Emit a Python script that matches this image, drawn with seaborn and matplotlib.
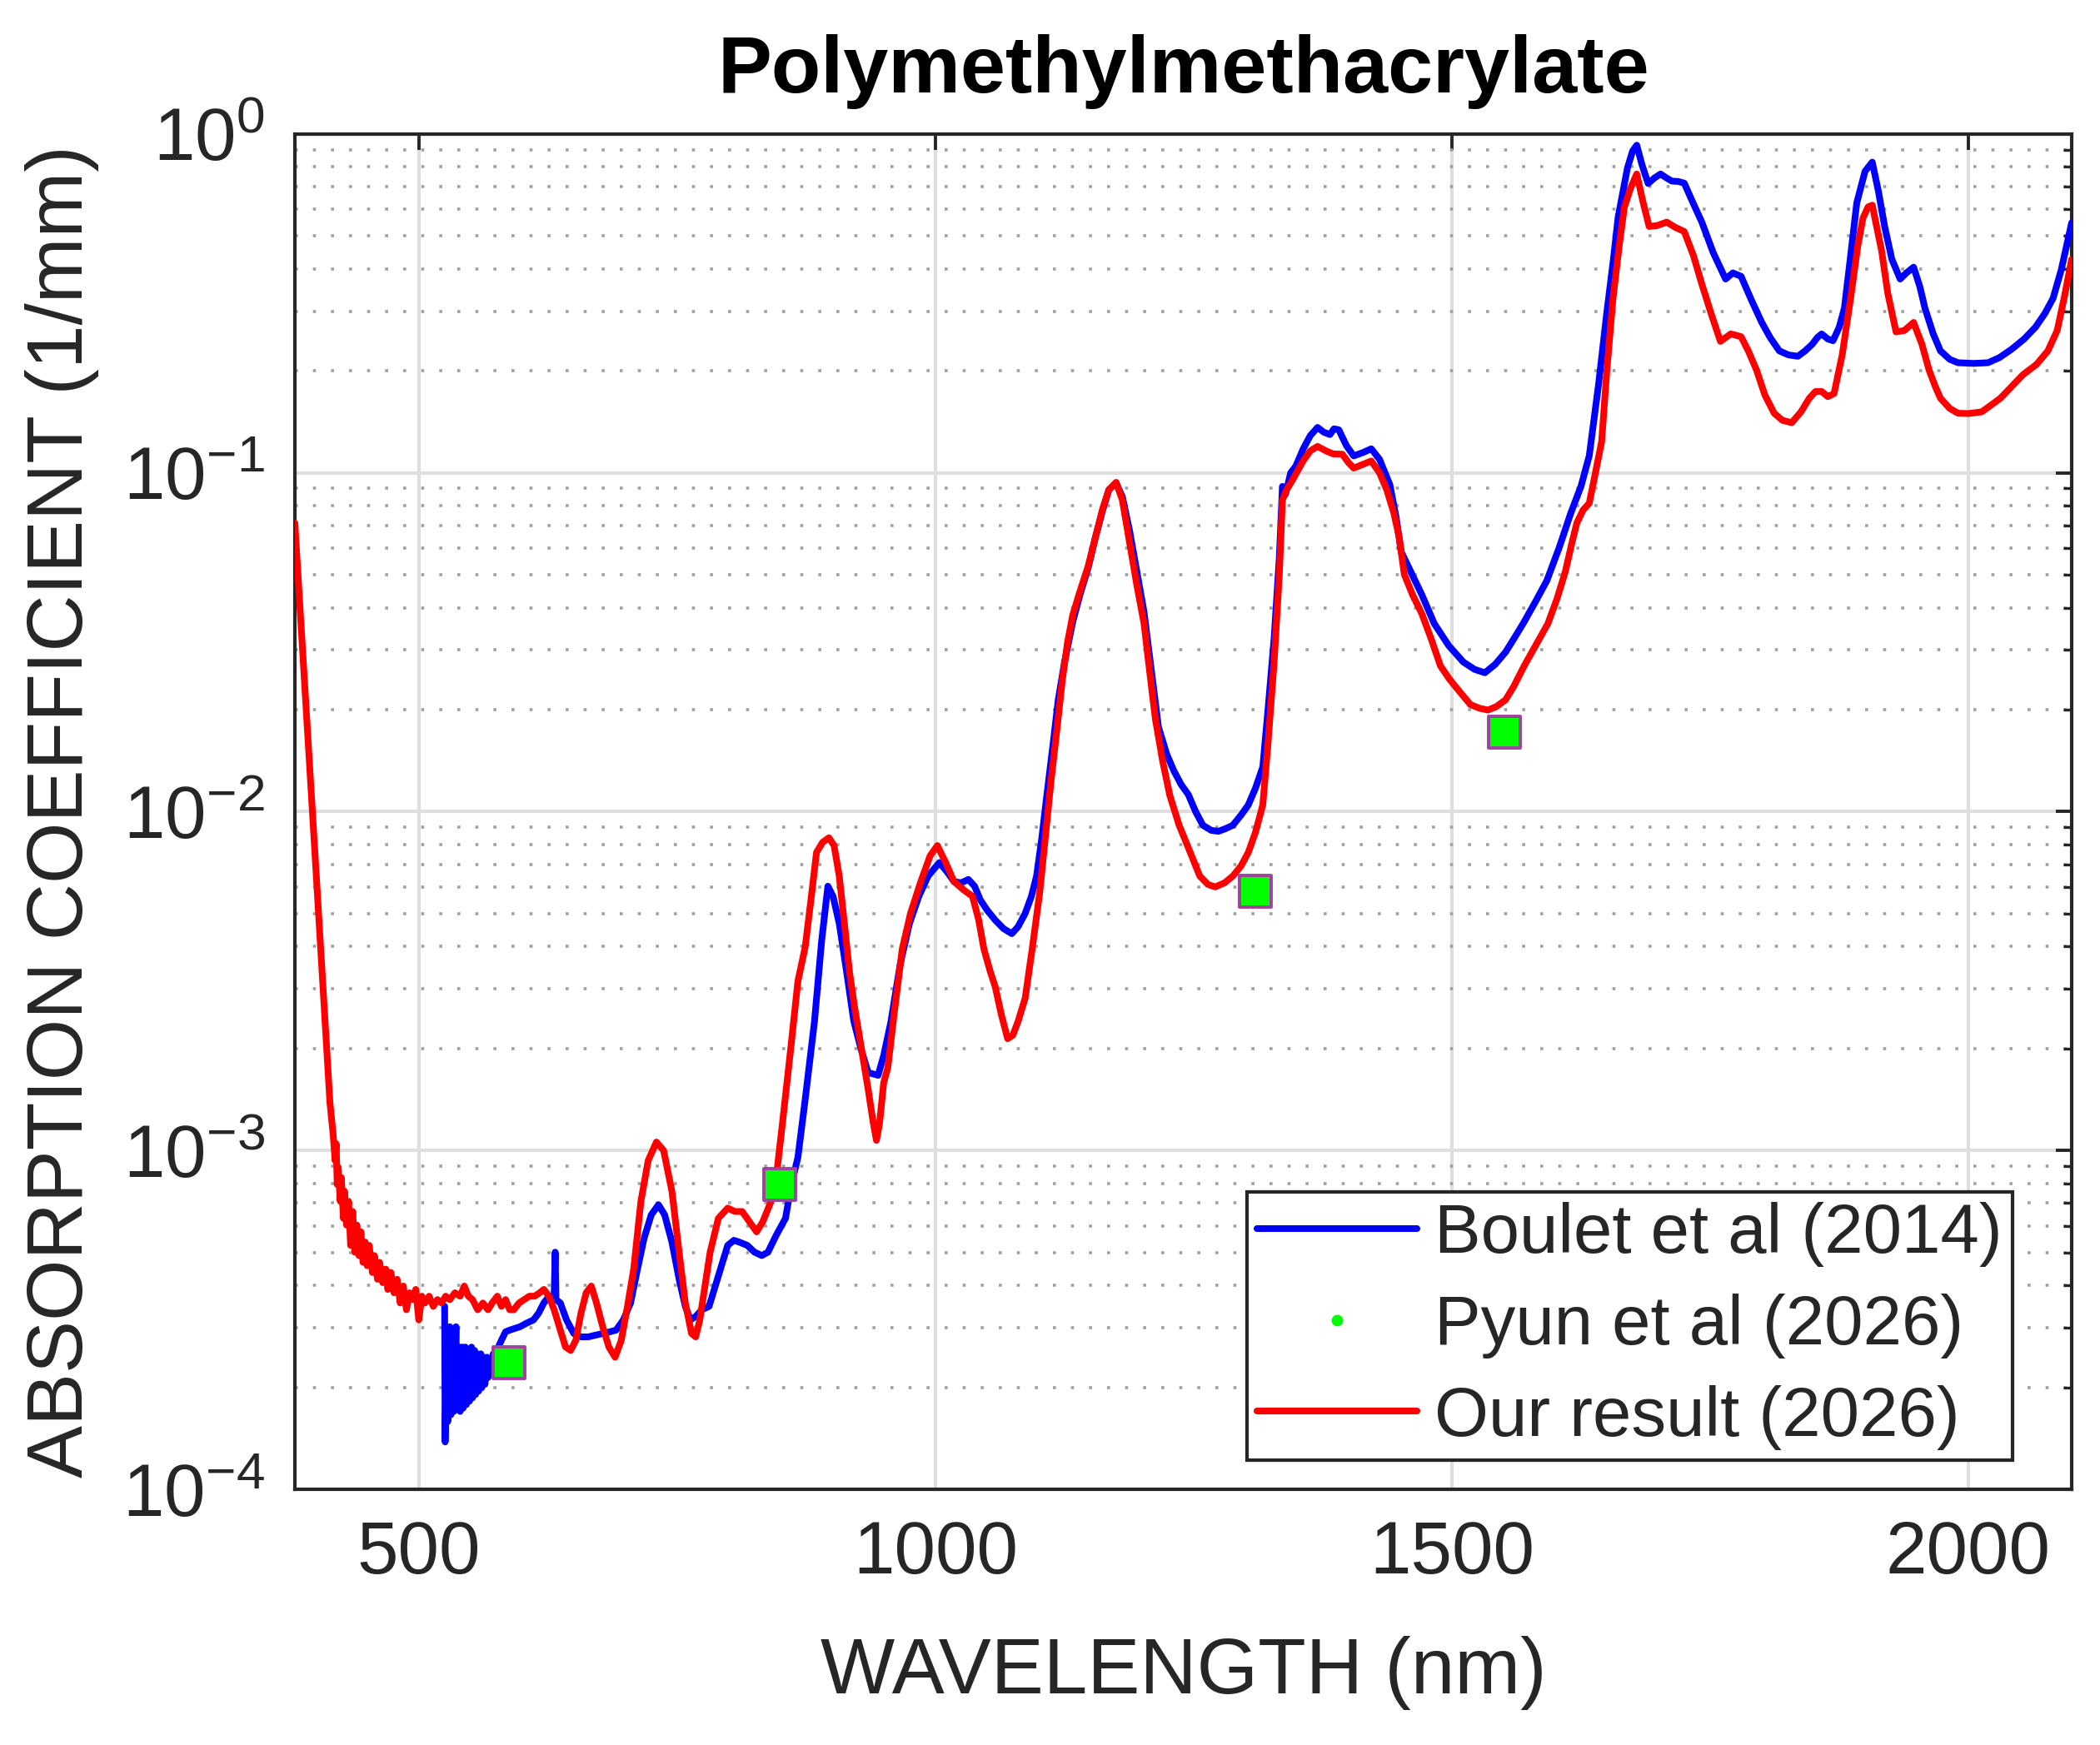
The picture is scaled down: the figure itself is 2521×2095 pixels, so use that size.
import numpy as np
import pandas as pd
import matplotlib
matplotlib.use("Agg")
from matplotlib import pyplot as plt
from matplotlib.lines import Line2D
from matplotlib.ticker import LogLocator, NullFormatter
import seaborn as sns

# values, stored as log10 of the absorption coefficient (1/mm)
red_nm = [380, 390, 400, 410, 414, 417, 419, 420, 421, 422, 424, 425, 427, 428, 430, 432, 434, 436,
          438, 440, 442, 444, 446, 448, 450, 452, 455, 457, 460, 462, 465, 468, 470, 473, 476, 479,
          482, 485, 488, 491, 494, 497, 500, 503, 506, 510, 514, 518, 522, 526, 530, 535, 540, 544,
          548, 552, 557, 562, 567, 571, 576, 580, 584, 588, 592, 597, 602, 607, 612, 617, 621, 626,
          631, 637, 642, 647, 652, 657, 662, 667, 672, 678, 684, 690, 696, 702, 708, 715, 722, 730,
          737, 745, 752, 758, 764, 768, 772, 777, 782, 790, 799, 806, 813, 820, 827, 833, 841, 846,
          852, 860, 867, 874, 880, 885, 891, 897, 902, 907, 912, 917, 922, 928, 935, 940, 943, 946,
          950, 954, 960, 968, 976, 986, 995, 1002, 1010, 1018, 1027, 1036, 1042, 1047, 1053, 1058,
          1064, 1070, 1075, 1080, 1087, 1094, 1101, 1107, 1112, 1118, 1123, 1128, 1133, 1140, 1148,
          1155, 1162, 1168, 1175, 1181, 1188, 1195, 1202, 1208, 1213, 1220, 1227, 1236, 1245, 1256,
          1264, 1271, 1280, 1288, 1296, 1303, 1310, 1317, 1322, 1328, 1333, 1336, 1340, 1346, 1356,
          1363, 1370, 1378, 1385, 1394, 1400, 1405, 1414, 1422, 1430, 1437, 1444, 1449, 1454, 1462,
          1471, 1480, 1489, 1498, 1506, 1518, 1527, 1535, 1543, 1552, 1560, 1570, 1581, 1593, 1602,
          1610, 1616, 1621, 1627, 1633, 1639, 1645, 1650, 1656, 1662, 1667, 1673, 1679, 1685, 1691,
          1699, 1708, 1716, 1725, 1734, 1742, 1751, 1760, 1770, 1780, 1787, 1795, 1803, 1812, 1820,
          1829, 1838, 1846, 1852, 1858, 1864, 1870, 1878, 1886, 1893, 1898, 1903, 1907, 1911, 1916,
          1922, 1930, 1938, 1947, 1955, 1962, 1968, 1973, 1982, 1990, 2000, 2013, 2022, 2031, 2042,
          2053, 2066, 2077, 2086, 2093, 2100]
red_log10 = [-1.148, -1.65, -2.15, -2.66, -2.86, -2.95, -3.03, -2.98, -3.10, -3.05, -3.15, -3.08,
             -3.20, -3.12, -3.22, -3.15, -3.28, -3.18, -3.30, -3.22, -3.31, -3.24, -3.33, -3.27,
             -3.34, -3.28, -3.36, -3.31, -3.38, -3.33, -3.39, -3.35, -3.41, -3.36, -3.42, -3.38,
             -3.45, -3.40, -3.47, -3.42, -3.44, -3.41, -3.50, -3.43, -3.45, -3.43, -3.46, -3.44,
             -3.45, -3.43, -3.44, -3.42, -3.43, -3.40, -3.43, -3.44, -3.47, -3.45, -3.47, -3.45,
             -3.43, -3.46, -3.44, -3.47, -3.47, -3.45, -3.44, -3.43, -3.43, -3.42, -3.41, -3.43,
             -3.47, -3.53, -3.58, -3.59, -3.56, -3.48, -3.42, -3.40, -3.45, -3.52, -3.58, -3.61,
             -3.56, -3.46, -3.35, -3.15, -3.03, -2.975, -3.00, -3.12, -3.30, -3.45, -3.54, -3.55,
             -3.50, -3.40, -3.30, -3.20, -3.17, -3.18, -3.18, -3.21, -3.24, -3.21, -3.15, -3.08,
             -2.92, -2.70, -2.50, -2.40, -2.25, -2.12, -2.09, -2.077, -2.10, -2.19, -2.33, -2.475,
             -2.58, -2.69, -2.82, -2.92, -2.97, -2.92, -2.80, -2.756, -2.60, -2.405, -2.30, -2.206,
             -2.13, -2.10, -2.15, -2.206, -2.23, -2.25, -2.32, -2.405, -2.47, -2.517, -2.60, -2.67,
             -2.66, -2.62, -2.55, -2.40, -2.24, -2.06, -1.91, -1.75, -1.61, -1.50, -1.42, -1.35,
             -1.275, -1.19, -1.106, -1.05, -1.028, -1.08, -1.205, -1.33, -1.444, -1.60, -1.726,
             -1.85, -1.952, -2.04, -2.107, -2.19, -2.215, -2.222, -2.21, -2.19, -2.16, -2.12, -2.06,
             -1.98, -1.80, -1.557, -1.30, -1.08, -1.05, -1.02, -0.965, -0.935, -0.922, -0.935,
             -0.944, -0.945, -0.97, -0.986, -0.975, -0.965, -1.00, -1.05, -1.12, -1.19, -1.30,
             -1.36, -1.416, -1.49, -1.57, -1.61, -1.64, -1.684, -1.695, -1.70, -1.69, -1.67, -1.63,
             -1.57, -1.51, -1.445, -1.37, -1.29, -1.21, -1.148, -1.11, -1.09, -1.00, -0.908, -0.70,
             -0.485, -0.33, -0.216, -0.16, -0.118, -0.20, -0.273, -0.27, -0.26, -0.275, -0.288,
             -0.36, -0.443, -0.53, -0.612, -0.59, -0.598, -0.64, -0.697, -0.77, -0.824, -0.845,
             -0.852, -0.82, -0.78, -0.76, -0.76, -0.775, -0.766, -0.65, -0.485, -0.33, -0.248,
             -0.215, -0.21, -0.27, -0.344, -0.47, -0.584, -0.58, -0.556, -0.62, -0.697, -0.745,
             -0.78, -0.81, -0.824, -0.825, -0.82, -0.80, -0.78, -0.745, -0.71, -0.68, -0.64, -0.58,
             -0.48, -0.37]

blue_nm = [525, 525.5, 527, 528, 530, 531, 533, 534, 536, 537, 539, 540, 542, 543, 545, 546, 548,
           549, 551, 552, 554, 555, 557, 558, 560, 561, 563, 564, 566, 567, 569, 570, 572, 574, 577,
           580, 584, 588, 593, 598, 604, 611, 616, 621, 626, 631, 632, 632.8, 637, 643, 650, 657,
           664, 671, 678, 685, 691, 698, 705, 711, 718, 725, 732, 738, 745, 752, 758, 763, 768, 774,
           781, 790, 799, 805, 810, 818, 825, 832, 838, 846, 855, 860, 867, 874, 883, 890, 896, 901,
           907, 914, 921, 928, 935, 944.6, 950, 957, 966, 975, 984, 993, 1004, 1012, 1018, 1025,
           1032, 1038, 1043.5, 1050, 1058, 1066, 1074, 1080, 1087, 1093, 1098, 1103, 1108, 1114,
           1119, 1125, 1133, 1140, 1148, 1155, 1162, 1168, 1175, 1181, 1188, 1195, 1202, 1209, 1216,
           1224, 1231, 1238, 1245, 1252, 1259, 1267, 1274, 1281, 1288, 1296, 1303, 1310, 1317, 1322,
           1328, 1333, 1336, 1339, 1344, 1349, 1356, 1363, 1370, 1376, 1382, 1386, 1390.6, 1398,
           1405, 1414, 1422, 1430, 1440, 1446, 1451, 1460, 1471, 1483, 1497, 1511, 1522, 1532, 1542,
           1552, 1560, 1569, 1581, 1592, 1604, 1615, 1625, 1633, 1642, 1650, 1656, 1661, 1670, 1675,
           1679, 1684, 1690, 1696, 1702, 1708, 1713, 1719, 1725, 1733, 1742, 1753, 1765, 1772, 1780,
           1790, 1800, 1808, 1817, 1826, 1835, 1842, 1849, 1854, 1858, 1864, 1869, 1875, 1880, 1886,
           1892, 1900, 1907, 1913, 1919, 1926, 1934, 1940, 1947, 1953, 1958, 1966, 1973, 1982, 1990,
           2005, 2019, 2030, 2042, 2054, 2065, 2074, 2082, 2090, 2100]
blue_log10 = [-3.46, -3.86, -3.55, -3.80, -3.52, -3.78, -3.56, -3.77, -3.52, -3.76, -3.58, -3.77,
              -3.58, -3.76, -3.58, -3.75, -3.59, -3.74, -3.58, -3.73, -3.59, -3.72, -3.60, -3.71,
              -3.60, -3.70, -3.61, -3.69, -3.61, -3.67, -3.62, -3.65, -3.60, -3.62, -3.58, -3.56,
              -3.535, -3.53, -3.525, -3.52, -3.51, -3.50, -3.48, -3.45, -3.43, -3.43, -3.30, -3.44,
              -3.45, -3.50, -3.54, -3.55, -3.55, -3.545, -3.54, -3.535, -3.53, -3.50, -3.45, -3.36,
              -3.26, -3.19, -3.16, -3.19, -3.27, -3.38, -3.46, -3.50, -3.49, -3.47, -3.46, -3.37,
              -3.28, -3.265, -3.27, -3.28, -3.30, -3.31, -3.30, -3.25, -3.20, -3.11, -3.02, -2.85,
              -2.62, -2.38, -2.22, -2.25, -2.33, -2.47, -2.617, -2.70, -2.77, -2.778, -2.72, -2.62,
              -2.45, -2.33, -2.25, -2.19, -2.15, -2.18, -2.206, -2.21, -2.20, -2.22, -2.26, -2.29,
              -2.32, -2.345, -2.36, -2.34, -2.30, -2.25, -2.19, -2.08, -1.95, -1.80, -1.67, -1.56,
              -1.44, -1.36, -1.28, -1.19, -1.11, -1.05, -1.03, -1.07, -1.17, -1.29, -1.41, -1.58,
              -1.75, -1.83, -1.88, -1.92, -1.95, -2.00, -2.04, -2.055, -2.058, -2.05, -2.04, -2.01,
              -1.98, -1.93, -1.868, -1.70, -1.487, -1.25, -1.04, -1.063, -1.00, -0.98, -0.93, -0.89,
              -0.866, -0.88, -0.887, -0.87, -0.873, -0.92, -0.95, -0.94, -0.929, -0.96, -1.035,
              -1.13, -1.233, -1.29, -1.36, -1.445, -1.51, -1.558, -1.58, -1.59, -1.565, -1.529,
              -1.49, -1.445, -1.38, -1.318, -1.22, -1.12, -1.04, -0.95, -0.74, -0.527, -0.38, -0.245,
              -0.10, -0.05, -0.033, -0.09, -0.146, -0.13, -0.118, -0.13, -0.139, -0.14, -0.145,
              -0.20, -0.26, -0.35, -0.428, -0.41, -0.42, -0.49, -0.556, -0.60, -0.64, -0.652, -0.656,
              -0.64, -0.62, -0.60, -0.59, -0.605, -0.61, -0.57, -0.514, -0.36, -0.203, -0.11, -0.083,
              -0.17, -0.273, -0.37, -0.428, -0.41, -0.393, -0.45, -0.514, -0.59, -0.64, -0.665,
              -0.675, -0.677, -0.675, -0.66, -0.635, -0.605, -0.57, -0.53, -0.485, -0.40, -0.262]

pyun_nm = [587, 849, 1310, 1551]
pyun_k = [2.36e-4, 7.95e-4, 5.82e-3, 1.72e-2]

labels = ["Boulet et al (2014)", "Pyun et al (2026)", "Our result (2026)"]
xtick_vals = [500, 1000, 1500, 2000]

blue_df = pd.DataFrame({"nm": blue_nm, "k": np.power(10.0, blue_log10)})
red_df = pd.DataFrame({"nm": red_nm, "k": np.power(10.0, red_log10)})
pyun_df = pd.DataFrame({"nm": pyun_nm, "k": pyun_k})

sns.set_style("white")
plt.rcParams["font.family"] = ["Liberation Sans", "DejaVu Sans"]
plt.rcParams["mathtext.fontset"] = "custom"
plt.rcParams["mathtext.rm"] = "Liberation Sans"
txt = "#262626"

fig, ax = plt.subplots(figsize=(12.605, 10.475), dpi=200)
fig.subplots_adjust(left=0.1404, right=0.9865, bottom=0.1465, top=0.9232)

sns.lineplot(data=blue_df, x="nm", y="k", color="#0000ff", lw=2.9,
             estimator=None, sort=False, ax=ax, zorder=3)
sns.lineplot(data=red_df, x="nm", y="k", color="#ff0000", lw=2.9,
             estimator=None, sort=False, ax=ax, zorder=4)
sns.scatterplot(data=pyun_df, x="nm", y="k", marker="s", s=190, color="#00ff00",
                edgecolor="#a040a0", linewidth=1.4, ax=ax, zorder=5)

ax.set_yscale("log")
ax.set_xlim(380, 2100)
ax.set_ylim(1e-4, 1)
ax.set_xticks(xtick_vals)
ax.yaxis.set_major_locator(LogLocator(base=10, numticks=10))
ax.yaxis.set_minor_locator(LogLocator(base=10, subs=np.arange(2, 10), numticks=20))
ax.yaxis.set_minor_formatter(NullFormatter())

ax.grid(which="major", color="#dedede", lw=1.5, ls="-")
ax.grid(which="minor", axis="y", color="#a0a0a0", lw=1.3, ls=(0, (1, 5)))
ax.set_axisbelow(True)

ax.tick_params(which="both", direction="in", top=True, right=True, colors=txt,
               labelcolor=txt, labelsize=32)
ax.tick_params(which="major", length=7, width=1.4, pad=13)
ax.tick_params(which="minor", length=3.5, width=1.2)
for sp in ax.spines.values():
    sp.set_color(txt)
    sp.set_linewidth(1.5)

ax.set_xlabel("WAVELENGTH (nm)", fontsize=34, color=txt)
ax.set_ylabel("ABSORPTION COEFFICIENT (1/mm)", fontsize=34, color=txt)
ax.xaxis.set_label_coords(0.5, -0.108)
ax.yaxis.set_label_coords(-0.11, 0.5)
ax.set_title("Polymethylmethacrylate", fontsize=35, fontweight="bold", color="black", pad=18)

# legend: lines from the plot, small dot for the Pyun points
blue_line, red_line = ax.lines[0], ax.lines[1]
pyun_proxy = Line2D([], [], ls="none", marker="o", markersize=4, color="#00ff00")
leg = ax.legend([blue_line, pyun_proxy, red_line], labels, loc="lower right",
                bbox_to_anchor=(0.9667, 0.0215), fontsize=30, frameon=True, fancybox=False,
                framealpha=1, edgecolor=txt, handlelength=2.3, handletextpad=0.25,
                borderpad=0.15, labelspacing=0.38, borderaxespad=0)
leg.get_frame().set_linewidth(1.5)

fig.savefig("out.png", dpi=200)
